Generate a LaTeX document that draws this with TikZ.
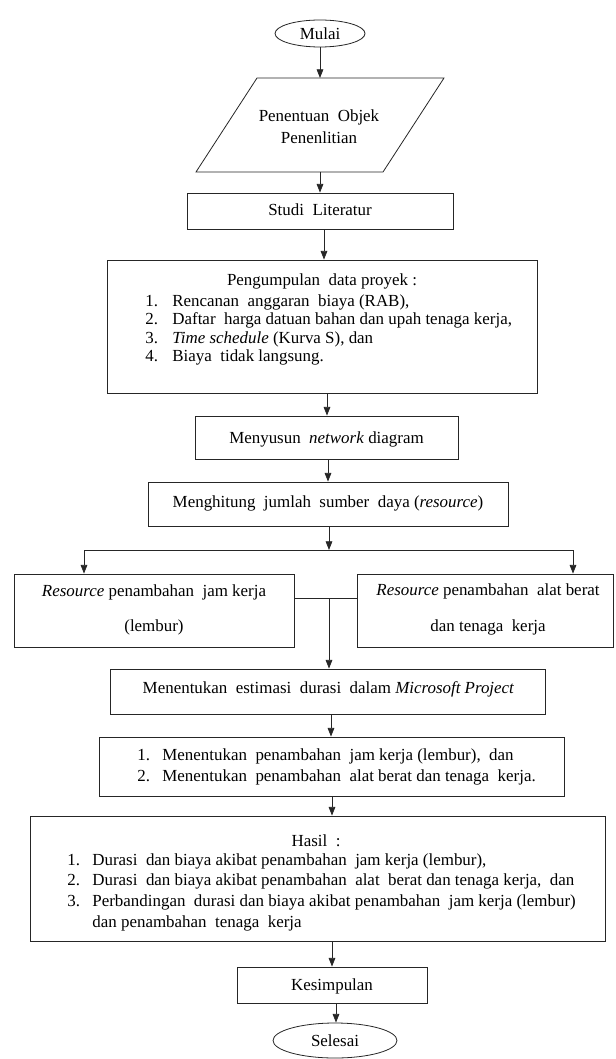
\documentclass[tikz,border=0pt]{standalone}
\usepackage{fontspec}
\setmainfont{Liberation Serif}
\usetikzlibrary{arrows.meta,shapes.geometric,fit}
\newcommand\itm[2][19pt]{\makebox[#1][l]{#2}}
\begin{document}
\begin{tikzpicture}[x=0.75pt,y=-0.75pt,
  line width=0.6pt, draw=black!85,
  every node/.style={font=\fontsize{12.7}{15}\selectfont},
  box/.style={draw=black!85, rectangle, inner sep=0pt},
  oval/.style={draw=black!85, ellipse, inner sep=0pt},
  txt/.style={inner sep=0pt, text height=8.8pt, text depth=2.6pt},
  arr/.style={-{Triangle[length=6.5pt,width=5pt]}}
]
\useasboundingbox (0,0) rectangle (615,1059);

% x positions of the vertical connectors
\path (320,0) coordinate (x1) (324,0) coordinate (x3) (327,0) coordinate (x4)
      (328,0) coordinate (x5) (331,0) coordinate (x7) (332,0) coordinate (x8)
      (336,0) coordinate (x9);

% start
\node[oval, minimum width=67.5pt, minimum height=20.25pt] (mulai) at (320,33.5) {Mulai};

% parallelogram
\coordinate (pgA) at (257,78);
\coordinate (pgB) at (444,78);
\coordinate (pgC) at (383,172);
\coordinate (pgD) at (196,172);
\draw (pgA) -- (pgB) -- (pgC) -- (pgD) -- cycle;
\coordinate (ptop) at (320,78);
\coordinate (pbot) at (320,172);
\node[inner sep=0pt, align=center, font=\fontsize{12.7}{16.5}\selectfont] (penentuan) at (319,126.5) {Penentuan\ \ Objek\\Penenlitian};

% studi literatur
\node[box, fit={(187,193) (453,229)}] (studi) {};
\node[txt] (studit) at (320,211) {Studi\ \ Literatur};

% pengumpulan data
\node[box, fit={(107,260) (537,393)}] (kump) {};
\node[txt] (kumpt) at (322,281) {Pengumpulan\ \ data proyek :};
\node[txt, anchor=west] (k1) at (145,302) {\itm[20.25pt]{1.}Rencanan\ \ anggaran\ \ biaya (RAB),};
\node[txt, anchor=west] (k2) at (145,320.5) {\itm[20.25pt]{2.}Daftar\ \ harga datuan bahan dan upah tenaga kerja,};
\node[txt, anchor=west] (k3) at (145,339) {\itm[20.25pt]{3.}\textit{Time schedule} (Kurva S), dan};
\node[txt, anchor=west] (k4) at (145,357) {\itm[20.25pt]{4.}Biaya\ \ tidak langsung.};

% menyusun
\node[box, fit={(195,416) (458,459)}] (menyusun) {};
\node[txt] (menyusunt) at (326.5,439) {Menyusun\ \ \textit{network} diagram};

% menghitung
\node[box, fit={(148,482) (508,526)}] (menghitung) {};
\node[txt] (menghitungt) at (328,503) {Menghitung\ \ jumlah\ \ sumber\ \ daya (\textit{resource})};

% split
\coordinate (sp) at (329,550);
\coordinate (spL) at (84,550);
\coordinate (spR) at (573,550);

% resource boxes
\node[box, fit={(14,574) (294,647)}] (resL) {};
\node[txt] (resL1) at (154,592) {\textit{Resource} penambahan\ \ jam kerja};
\node[txt] (resL2) at (154,627) {(lembur)};
\node[box, fit={(357,574) (613,647)}] (resR) {};
\node[txt] (resR1) at (488,591) {\textit{Resource} penambahan\ \ alat berat};
\node[txt] (resR2) at (488,627) {dan tenaga\ \ kerja};
\coordinate (mg) at (329,598);

% estimasi
\node[box, fit={(110,669) (545,714)}] (est) {};
\node[txt] (estt) at (328.5,689) {Menentukan\ \ estimasi\ \ durasi\ \ dalam \textit{Microsoft Project}};

% list
\node[box, fit={(99,737) (564,796)}] (list) {};
\node[txt, anchor=west] (l1) at (137,756) {\itm[18.75pt]{1.}Menentukan\ \ penambahan\ \ jam kerja (lembur),\ \ dan};
\node[txt, anchor=west] (l2) at (137,777) {\itm[18.75pt]{2.}Menentukan\ \ penambahan\ \ alat berat dan tenaga\ \ kerja.};

% hasil
\node[box, fit={(30,816) (605,941)}] (hasil) {};
\node[txt] (hasilt) at (316,842) {Hasil\ \ :};
\node[txt, anchor=west] (h1) at (67,861) {\itm[18.75pt]{1.}Durasi\ \ dan biaya akibat penambahan\ \ jam kerja (lembur),};
\node[txt, anchor=west] (h2) at (67,881) {\itm[18.75pt]{2.}Durasi\ \ dan biaya akibat penambahan\ \ alat\ \ berat dan tenaga kerja,\ \ dan};
\node[txt, anchor=west] (h3) at (67,902) {\itm[18.75pt]{3.}Perbandingan\ \ durasi dan biaya akibat penambahan\ \ jam kerja (lembur)};
\node[txt, anchor=west] (h4) at (92,923) {dan penambahan\ \ tenaga\ \ kerja};

% kesimpulan
\node[box, fit={(237,967) (427,1003)}] (kes) {};
\node[txt] (kest) at (332,986) {Kesimpulan};

% end
\node[oval, minimum width=93pt, minimum height=26.25pt] (selesai) at (335,1040.5) {Selesai};

% connectors
\draw[arr] (mulai) -- (ptop);
\draw[arr] (pbot) -- (studi.north -| pbot);
\draw[arr] (studi.south -| x3) -- (kump.north -| x3);
\draw[arr] (kump.south -| x4) -- (menyusun.north -| x4);
\draw[arr] (menyusun.south -| x5) -- (menghitung.north -| x5);
\draw[arr] (menghitung.south -| sp) -- (sp);
\draw (spL) -- (spR);
\draw[arr] (spL) -- (resL.north -| spL);
\draw[arr] (spR) -- (resR.north -| spR);
\draw (resL.east |- mg) -- (resR.west |- mg);
\draw[arr] (mg) -- (est.north -| mg);
\draw[arr] (est.south -| x7) -- (list.north -| x7);
\draw[arr] (list.south -| x8) -- (hasil.north -| x8);
\draw[arr] (hasil.south -| x8) -- (kes.north -| x8);
\draw[arr] (kes.south -| x9) -- (selesai.north -| x9);
\end{tikzpicture}
\end{document}
